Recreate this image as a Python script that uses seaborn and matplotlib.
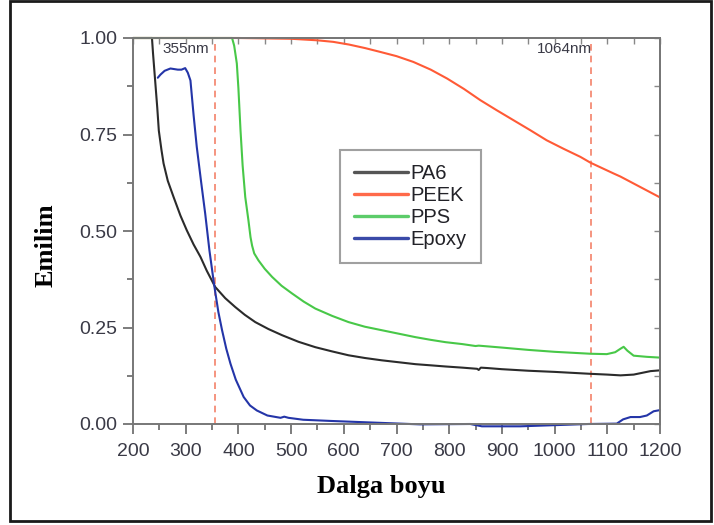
import numpy as np
import pandas as pd
import matplotlib
matplotlib.use("Agg")
import matplotlib.pyplot as plt
from matplotlib.patches import Rectangle
from matplotlib.lines import Line2D
import seaborn as sns

# Okunan veriler (dalga boyu, nm -> emilim)
pa6_x = [200, 236, 238, 242, 246, 249, 254, 258, 266, 277, 290, 302, 315, 328, 340, 356, 375, 394,
         412, 432, 457, 483, 514, 546, 578, 609, 640, 672, 704, 736, 765, 793, 825, 853, 856, 860,
         872, 900, 950, 1000, 1068, 1100, 1125, 1150, 1182, 1200]
pa6_y = [1.0, 1.0, 0.96, 0.89, 0.82, 0.76, 0.71, 0.675, 0.63, 0.588, 0.54, 0.502, 0.465, 0.433, 0.397,
         0.355, 0.326, 0.303, 0.283, 0.264, 0.246, 0.23, 0.213, 0.199, 0.188, 0.178, 0.171, 0.165,
         0.16, 0.155, 0.152, 0.149, 0.146, 0.143, 0.14, 0.146, 0.145, 0.142, 0.138, 0.135, 0.13,
         0.128, 0.126, 0.128, 0.137, 0.139]

peek_x = [200, 300, 400, 450, 500, 550, 580, 610, 640, 669, 700, 732, 765, 796, 828, 859, 890, 922,
          954, 985, 1017, 1049, 1068, 1090, 1112, 1125, 1150, 1175, 1200]
peek_y = [1.0, 1.0, 1.0, 0.999, 0.998, 0.994, 0.99, 0.983, 0.974, 0.964, 0.953, 0.938, 0.918, 0.895,
          0.868, 0.839, 0.813, 0.787, 0.761, 0.735, 0.713, 0.692, 0.677, 0.663, 0.649, 0.641, 0.623,
          0.605, 0.587]

pps_x = [200, 388, 392, 397, 400, 404, 408, 413, 419, 423, 426, 430, 438, 450, 464, 482, 502, 524,
         546, 578, 609, 640, 672, 704, 736, 765, 793, 825, 850, 856, 900, 950, 1000, 1068, 1099,
         1115, 1125, 1131, 1138, 1150, 1175, 1200]
pps_y = [1.0, 1.0, 0.98, 0.934, 0.87, 0.761, 0.67, 0.588, 0.528, 0.484, 0.462, 0.442, 0.424, 0.402,
         0.381, 0.358, 0.338, 0.317, 0.299, 0.28, 0.264, 0.252, 0.243, 0.234, 0.225, 0.218, 0.212,
         0.207, 0.202, 0.203, 0.198, 0.192, 0.187, 0.182, 0.181, 0.186, 0.195, 0.2, 0.19, 0.177,
         0.174, 0.172]

epoxy_x = [247, 252, 260, 271, 285, 292, 299, 304, 309, 315, 321, 329, 337, 345, 354, 362, 369, 377,
           385, 395, 410, 422, 435, 455, 480, 487, 495, 523, 574, 650, 745, 840, 862, 900, 935, 1000,
           1064, 1118, 1130, 1144, 1162, 1175, 1188, 1200]
epoxy_y = [0.897, 0.905, 0.915, 0.921, 0.918, 0.918, 0.922, 0.91, 0.89, 0.8, 0.718, 0.63, 0.545, 0.45,
           0.36, 0.29, 0.243, 0.195, 0.156, 0.115, 0.07, 0.048, 0.035, 0.022, 0.016, 0.019, 0.016, 0.011,
           0.008, 0.004, -0.001, 0.0, -0.006, -0.006, -0.006, -0.003, 0.0, 0.001, 0.012, 0.018, 0.018,
           0.022, 0.033, 0.036]

series_names = ["PA6", "PEEK", "PPS", "Epoxy"]
line_colors = ["#2b2b2b", "#ff5a36", "#48c848", "#2435a8"]
legend_colors = ["#555555", "#ff6a4a", "#5ccc6a", "#3a4aa8"]
laser_lines = [356, 1069]
laser_labels = ["355nm", "1064nm"]

df = pd.concat([
    pd.DataFrame({"x": pa6_x, "y": pa6_y, "malzeme": "PA6"}),
    pd.DataFrame({"x": peek_x, "y": peek_y, "malzeme": "PEEK"}),
    pd.DataFrame({"x": pps_x, "y": pps_y, "malzeme": "PPS"}),
    pd.DataFrame({"x": epoxy_x, "y": epoxy_y, "malzeme": "Epoxy"}),
], ignore_index=True)

sns.set_theme(style="ticks")
plt.rcParams["font.family"] = ["Liberation Sans", "DejaVu Sans"]

fig = plt.figure(figsize=(7.14, 5.25), dpi=100)
ax = fig.add_axes([133 / 714, 101 / 525, 527 / 714, 386 / 525])

sns.lineplot(data=df, x="x", y="y", hue="malzeme", hue_order=series_names,
             palette=line_colors, linewidth=1.5, sort=False, estimator=None,
             legend=False, ax=ax)
for ln in ax.lines:
    ln.set_clip_on(False)
    ln.set_solid_joinstyle("round")

# lazer dalga boyu çizgileri
for xv in laser_lines:
    ax.axvline(xv, color="#f4826a", linestyle=(0, (4, 3)), linewidth=1.2, zorder=1)
ax.text(301, 0.972, laser_labels[0], ha="center", va="center", fontsize=11, color="#3a3a46")
ax.text(1018, 0.972, laser_labels[1], ha="center", va="center", fontsize=11, color="#3a3a46")

ax.set_xlim(200, 1200)
ax.set_ylim(0, 1.0)
ax.set_xticks(np.arange(200, 1201, 100))
ax.set_xticks(np.arange(250, 1200, 100), minor=True)
ax.set_yticks([0, 0.25, 0.5, 0.75, 1.0])
ax.set_yticks([0.125, 0.375, 0.625, 0.875], minor=True)
ax.set_yticklabels(["0.00", "0.25", "0.50", "0.75", "1.00"])
ax.tick_params(axis="both", which="major", direction="out", length=7, width=1.2,
               color="#666666", labelsize=14, labelcolor="#3a3a46")
ax.tick_params(axis="both", which="minor", direction="out", length=4, width=1.2, color="#666666")
ax.tick_params(axis="x", pad=7)
ax.tick_params(axis="y", pad=4)
for sp in ax.spines.values():
    sp.set_color("#777777")
    sp.set_linewidth(1.4)

# üst ve sağ eksende içe dönük çentikler
top = ax.secondary_xaxis("top")
top.set_xticks(np.arange(200, 1201, 50))
top.tick_params(direction="in", length=4, width=1.0, color="#888888", labelsize=0)
top.set_xticklabels([])
right = ax.secondary_yaxis("right")
right.set_yticks(np.arange(0, 1.01, 0.125))
right.tick_params(direction="in", length=4, width=1.0, color="#888888", labelsize=0)
right.set_yticklabels([])
for s in (top, right):
    for sp in s.spines.values():
        sp.set_color("#777777")
        sp.set_linewidth(1.4)

ax.set_xlabel("Dalga boyu", fontsize=19, fontweight="bold", family="Liberation Serif", color="black")
ax.set_ylabel("Emilim", fontsize=19, fontweight="bold", family="Liberation Serif", color="black")
ax.xaxis.set_label_coords((381 - 133) / 527, -(475 - 424) / 386)
ax.yaxis.set_label_coords((58 - 133) / 527, (424 - 245) / 386)

handles = [Line2D([], [], color=c, linewidth=2.4) for c in legend_colors]
leg = ax.legend(handles, series_names, loc="upper left",
                bbox_to_anchor=((340 - 133) / 527, (424 - 150) / 386),
                borderaxespad=0, fontsize=14.5, frameon=True, fancybox=False,
                handlelength=2.7, handletextpad=0.1, labelspacing=0.15, borderpad=0.7)
leg.get_frame().set_edgecolor("#888888")
leg.get_frame().set_linewidth(1.5)
for t in leg.get_texts():
    t.set_color("#222228")

# dış çerçeve
fig.patches.append(Rectangle((10 / 714, 4 / 525), 701 / 714, 520 / 525, transform=fig.transFigure,
                             fill=False, edgecolor="#1a1a1a", linewidth=2))

fig.savefig("out.png", dpi=100)
